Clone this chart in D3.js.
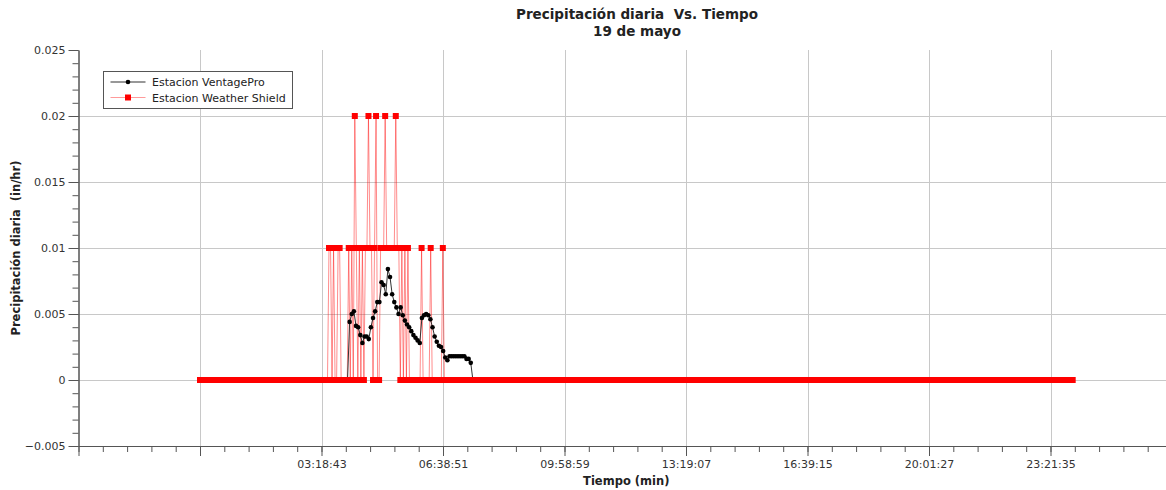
<!DOCTYPE html>
<html><head><meta charset="utf-8">
<script src="https://cdn.jsdelivr.net/npm/d3@7"></script>
<style>
body{margin:0;background:#fff;}
svg text{font-family:"DejaVu Sans",sans-serif;white-space:pre;}
</style>
</head><body>
<svg id="chart" width="1166" height="490"></svg>
<script>
// ---------- data ----------
const titleLines = ["Precipitación diaria  Vs. Tiempo", "19 de mayo"];
const yLabel = "Precipitación diaria  (in/hr)";
const xLabel = "Tiempo (min)";
const seriesNames = ["Estacion VentagePro", "Estacion Weather Shield"];

// x axis: time in hours; labelled ticks every xTickStep hours
const xTickStep = 3.3356;
const xTickIndex = [-1, 0, 1, 2, 3, 4, 5, 6, 7];
const xTickLabels = ["", "", "03:18:43", "06:38:51", "09:58:59", "13:19:07", "16:39:15", "20:01:27", "23:21:35"];
const xDomain = [-3.3356, 26.52];

const yTickValues = [-0.005, 0, 0.005, 0.01, 0.015, 0.02, 0.025];
const yTickLabels = ["\u22120.005", "0", "0.005", "0.01", "0.015", "0.02", "0.025"];
const yDomain = [-0.005, 0.025];

// Estacion VentagePro: samples from ventageStart (h), every ventageStep (h)
const ventageStart = 4.05;
const ventageStep = 3.5 / 60;
const ventageValues = [
  0, 0.0044, 0.0050, 0.0052, 0.0041, 0.0040, 0.0034, 0.0028, 0.0033, 0.0033,
  0.0031, 0.0040, 0.0047, 0.0052, 0.0059, 0.0059, 0.0074, 0.0072, 0.0065, 0.0084,
  0.0078, 0.0065, 0.0059, 0.0055, 0.0050, 0.0055, 0.0049, 0.0045, 0.0042, 0.0040,
  0.0037, 0.0034, 0.0032, 0.0030, 0.0028, 0.0047, 0.0049, 0.0050, 0.0049, 0.0046,
  0.0040, 0.0033, 0.0029, 0.0026, 0.0025, 0.0022, 0.0017, 0.0015, 0.0018, 0.0018,
  0.0018, 0.0018, 0.0018, 0.0018, 0.0018, 0.0018, 0.0016, 0.0016, 0.0013, 0
];

// Estacion Weather Shield: samples from shieldStart (h), every shieldStep (h),
// stored as runs of [value, number of consecutive samples]
const shieldStart = 0;
const shieldStep = 2.5 / 60;
const shieldRuns = [
  [0, 85], [0.01, 2], [0, 1], [0.01, 1], [0, 2], [0.01, 2], [0, 5],
  [0.01, 1], [0, 1], [0.01, 1], [0, 1], [0.02, 1], [0.01, 1], [0, 1],
  [0.01, 1], [0, 1], [0.01, 1], [0, 1], [0.01, 2], [0.02, 1], [0.01, 2],
  [0, 1], [0.01, 1], [0.02, 1], [0, 2], [0.01, 3], [0.02, 1], [0.01, 6],
  [0.02, 1], [0.01, 2], [0, 1], [0.01, 1], [0, 1], [0.01, 1], [0, 1],
  [0.01, 1], [0, 8], [0.01, 1], [0, 5], [0.01, 1], [0, 7], [0.01, 1], [0, 415]
];

(function () {
// ---------- build series ----------
const ventage = ventageValues.map((v, i) => ({t: ventageStart + i * ventageStep, v}));
const shield = [];
shieldRuns.forEach(([v, n]) => { for (let j = 0; j < n; j++) shield.push({t: shieldStart + shield.length * shieldStep, v}); });

// ---------- layout ----------
const svg = d3.select("#chart");
const pL = 78.5, pR = 1166, pT = 50, pB = 446;
const x = d3.scaleLinear().domain(xDomain).range([pL, pR]);
const y = d3.scaleLinear().domain(yDomain).range([pB, pT]);

const gridColor = "#c8c8c8", axisColor = "#555", textColor = "#333";

// grid
const xMajor = xTickIndex.map(k => k * xTickStep);
svg.append("g").selectAll("line").data(xMajor.filter(d => x(d) > pL + 1)).join("line")
  .attr("x1", d => Math.round(x(d)) + 0.5).attr("x2", d => Math.round(x(d)) + 0.5)
  .attr("y1", pT).attr("y2", pB).attr("stroke", gridColor);
svg.append("g").selectAll("line").data(yTickValues.filter(d => d > yDomain[0] && d < yDomain[1])).join("line")
  .attr("y1", d => Math.round(y(d)) + 0.5).attr("y2", d => Math.round(y(d)) + 0.5)
  .attr("x1", pL).attr("x2", pR).attr("stroke", gridColor);

// axes
const xMinor = d3.range(-5, 60).map(k => k * xTickStep / 5).filter(d => d <= xDomain[1]);
const xAxisMinor = svg.append("g").attr("transform", `translate(0,${pB})`)
  .call(d3.axisBottom(x).tickValues(xMinor).tickFormat("").tickSize(6).tickSizeOuter(0));
const xAxis = svg.append("g").attr("transform", `translate(0,${pB})`)
  .call(d3.axisBottom(x).tickValues(xMajor).tickFormat((d, i) => xTickLabels[i]).tickSize(10).tickSizeOuter(0).tickPadding(4));
const yMinor = d3.range(-5, 26).map(k => k / 1000);
const yAxisMinor = svg.append("g").attr("transform", `translate(${pL},0)`)
  .call(d3.axisLeft(y).tickValues(yMinor).tickFormat("").tickSize(6).tickSizeOuter(0));
const yAxis = svg.append("g").attr("transform", `translate(${pL},0)`)
  .call(d3.axisLeft(y).tickValues(yTickValues).tickFormat((d, i) => yTickLabels[i]).tickSize(10).tickSizeOuter(0).tickPadding(3));
[xAxisMinor, xAxis, yAxisMinor, yAxis].forEach(g => {
  g.selectAll("path, line").attr("stroke", axisColor);
  g.selectAll("text").attr("fill", textColor).attr("font-size", 11).style("font-family", '"DejaVu Sans",sans-serif');
});

// series: Weather Shield lines
const line = d3.line().x(d => x(d.t)).y(d => y(d.v));
svg.append("path").datum(shield).attr("d", line)
  .attr("fill", "none").attr("stroke", "rgba(255,0,0,0.45)").attr("stroke-width", 1);

// VentagePro
svg.append("path").datum(ventage).attr("d", line)
  .attr("fill", "none").attr("stroke", "#333").attr("stroke-width", 1);
svg.append("g").selectAll("circle").data(ventage).join("circle")
  .attr("cx", d => x(d.t)).attr("cy", d => y(d.v)).attr("r", 2.3).attr("fill", "#000");

// Weather Shield markers
const sq = 6;
svg.append("g").selectAll("rect").data(shield).join("rect")
  .attr("x", d => x(d.t) - sq / 2).attr("y", d => y(d.v) - sq / 2)
  .attr("width", sq).attr("height", sq).attr("fill", "#ff0000");

// titles
svg.append("text").attr("x", 637).attr("y", 19).attr("text-anchor", "middle")
  .attr("font-size", 13.5).attr("font-weight", "bold").attr("fill", "#222").text(titleLines[0]);
svg.append("text").attr("x", 637).attr("y", 36).attr("text-anchor", "middle")
  .attr("font-size", 13.5).attr("font-weight", "bold").attr("fill", "#222").text(titleLines[1]);
svg.append("text").attr("x", (pL + pR) / 2 + 4).attr("y", 485).attr("text-anchor", "middle")
  .attr("font-size", 11.5).attr("font-weight", "bold").attr("fill", "#222").text(xLabel);
svg.append("text").attr("transform", `translate(20,${(pT + pB) / 2}) rotate(-90)`).attr("text-anchor", "middle")
  .attr("font-size", 11.5).attr("font-weight", "bold").attr("fill", "#222").text(yLabel);

// legend
const lg = svg.append("g").attr("transform", "translate(103.5,71.5)");
lg.append("rect").attr("width", 189).attr("height", 37).attr("fill", "#fff").attr("stroke", "#555");
const legendItems = [
  {name: seriesNames[0], line: "#333", marker: "circle", color: "#000"},
  {name: seriesNames[1], line: "#ff9a9a", marker: "rect", color: "#ff0000"}
];
legendItems.forEach((it, i) => {
  const cy = 10.5 + i * 15.5;
  lg.append("line").attr("x1", 7).attr("x2", 42).attr("y1", cy).attr("y2", cy).attr("stroke", it.line).attr("stroke-width", 1.2);
  if (it.marker === "circle") lg.append("circle").attr("cx", 24.5).attr("cy", cy).attr("r", 2.3).attr("fill", it.color);
  else lg.append("rect").attr("x", 21.5).attr("y", cy - 3).attr("width", 6).attr("height", 6).attr("fill", it.color);
  lg.append("text").attr("x", 48.5).attr("y", cy + 4).attr("font-size", 11).attr("fill", "#222").text(it.name);
});
})();
</script>
</body></html>
